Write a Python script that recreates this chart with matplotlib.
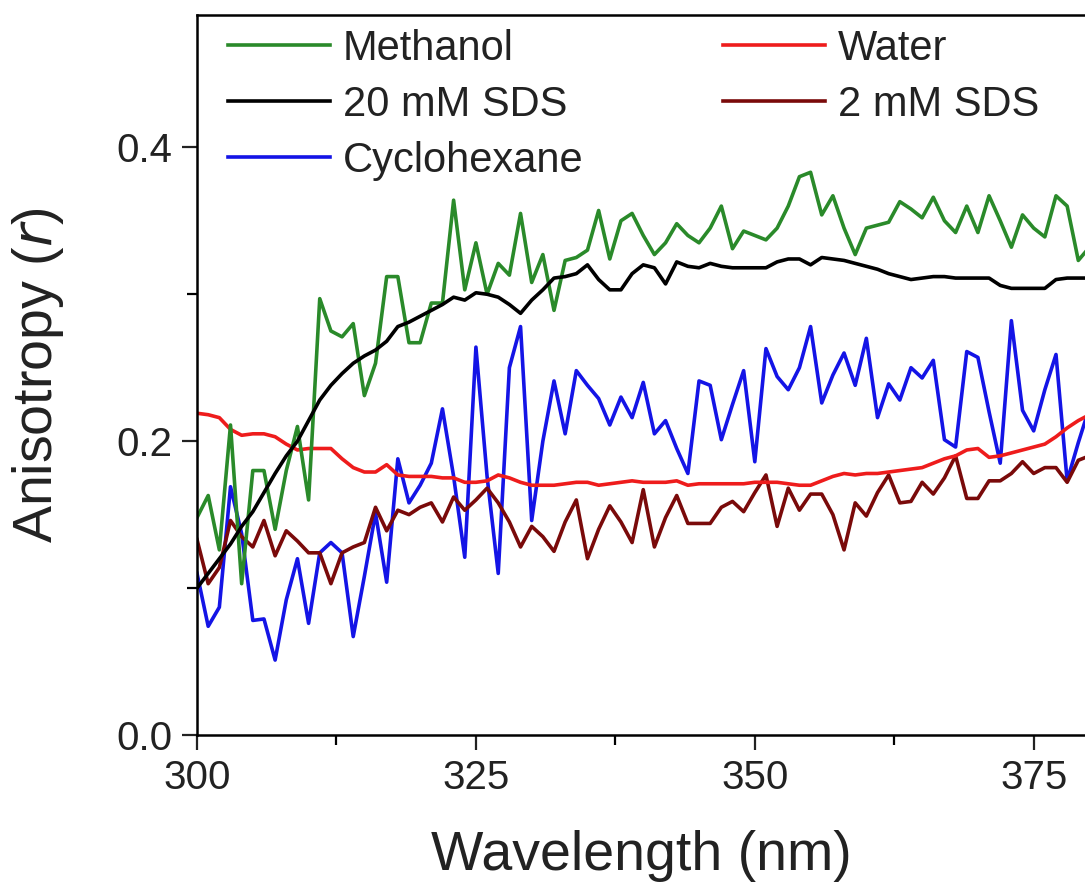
import numpy as np
import matplotlib
matplotlib.use("Agg")
from matplotlib import pyplot as plt
from matplotlib.ticker import MultipleLocator, FormatStrFormatter

plt.rcParams["font.family"] = ["Liberation Sans", "DejaVu Sans"]

# wavelength grid (nm)
wavelength = np.arange(300, 381)

methanol = [
    0.148, 0.163, 0.126, 0.211, 0.103, 0.180, 0.180, 0.140, 0.180, 0.210,
    0.160, 0.297, 0.275, 0.271, 0.280, 0.231, 0.253, 0.312, 0.312, 0.267,
    0.267, 0.294, 0.294, 0.364, 0.303, 0.335, 0.300, 0.321, 0.313, 0.355,
    0.308, 0.327, 0.289, 0.323, 0.325, 0.330, 0.357, 0.324, 0.350, 0.355,
    0.340, 0.327, 0.335, 0.348, 0.340, 0.335, 0.345, 0.360, 0.331, 0.343,
    0.340, 0.337, 0.345, 0.360, 0.380, 0.383, 0.354, 0.367, 0.345, 0.327,
    0.345, 0.347, 0.349, 0.363, 0.358, 0.352, 0.366, 0.350, 0.342, 0.360,
    0.342, 0.367, 0.350, 0.332, 0.354, 0.345, 0.339, 0.367, 0.360, 0.323,
    0.332,
]

sds_20mm = [
    0.100, 0.110, 0.120, 0.130, 0.142, 0.152, 0.165, 0.178, 0.190, 0.200,
    0.214, 0.228, 0.238, 0.246, 0.253, 0.258, 0.262, 0.268, 0.278, 0.281,
    0.285, 0.289, 0.293, 0.298, 0.296, 0.301, 0.300, 0.298, 0.293, 0.287,
    0.296, 0.303, 0.311, 0.312, 0.314, 0.320, 0.310, 0.303, 0.303, 0.314,
    0.320, 0.318, 0.307, 0.322, 0.319, 0.318, 0.321, 0.319, 0.318, 0.318,
    0.318, 0.318, 0.322, 0.324, 0.324, 0.320, 0.325, 0.324, 0.323, 0.321,
    0.319, 0.317, 0.314, 0.312, 0.310, 0.311, 0.312, 0.312, 0.311, 0.311,
    0.311, 0.311, 0.306, 0.304, 0.304, 0.304, 0.304, 0.310, 0.311, 0.311,
    0.311,
]

cyclohexane = [
    0.110, 0.074, 0.087, 0.169, 0.137, 0.078, 0.079, 0.051, 0.092, 0.120,
    0.076, 0.124, 0.131, 0.124, 0.067, 0.108, 0.151, 0.104, 0.188, 0.158,
    0.170, 0.185, 0.222, 0.176, 0.121, 0.264, 0.176, 0.110, 0.250, 0.278,
    0.146, 0.200, 0.241, 0.205, 0.248, 0.238, 0.229, 0.211, 0.230, 0.216,
    0.240, 0.205, 0.214, 0.195, 0.178, 0.241, 0.238, 0.201, 0.225, 0.248,
    0.186, 0.263, 0.244, 0.235, 0.250, 0.278, 0.226, 0.245, 0.260, 0.238,
    0.270, 0.216, 0.239, 0.228, 0.250, 0.243, 0.255, 0.201, 0.196, 0.261,
    0.257, 0.220, 0.185, 0.282, 0.221, 0.207, 0.235, 0.259, 0.173, 0.199,
    0.223,
]

water = [
    0.219, 0.218, 0.216, 0.208, 0.204, 0.205, 0.205, 0.203, 0.198, 0.194,
    0.195, 0.195, 0.195, 0.188, 0.182, 0.179, 0.179, 0.184, 0.177, 0.176,
    0.176, 0.176, 0.175, 0.175, 0.172, 0.172, 0.173, 0.177, 0.175, 0.172,
    0.170, 0.170, 0.170, 0.171, 0.172, 0.172, 0.170, 0.171, 0.172, 0.173,
    0.172, 0.172, 0.172, 0.173, 0.170, 0.171, 0.171, 0.171, 0.171, 0.171,
    0.172, 0.172, 0.172, 0.171, 0.170, 0.170, 0.173, 0.176, 0.178, 0.177,
    0.178, 0.178, 0.179, 0.180, 0.181, 0.182, 0.185, 0.188, 0.190, 0.194,
    0.195, 0.189, 0.190, 0.192, 0.194, 0.196, 0.198, 0.203, 0.209, 0.214,
    0.218,
]

sds_2mm = [
    0.133, 0.103, 0.114, 0.146, 0.135, 0.128, 0.146, 0.122, 0.139, 0.132,
    0.124, 0.124, 0.103, 0.124, 0.128, 0.131, 0.155, 0.139, 0.153, 0.150,
    0.155, 0.158, 0.145, 0.162, 0.153, 0.160, 0.168, 0.158, 0.145, 0.128,
    0.142, 0.135, 0.125, 0.145, 0.160, 0.120, 0.140, 0.156, 0.145, 0.131,
    0.167, 0.128, 0.148, 0.163, 0.144, 0.144, 0.144, 0.155, 0.159, 0.152,
    0.165, 0.177, 0.142, 0.168, 0.153, 0.164, 0.164, 0.150, 0.126, 0.158,
    0.149, 0.165, 0.177, 0.158, 0.159, 0.172, 0.164, 0.175, 0.190, 0.161,
    0.161, 0.173, 0.173, 0.178, 0.186, 0.178, 0.182, 0.182, 0.172, 0.187,
    0.190,
]

# legend order: column-wise (Methanol, 20 mM SDS, Cyclohexane | Water, 2 mM SDS)
series = [
    ("Methanol", methanol, "#2a8a2a"),
    ("20 mM SDS", sds_20mm, "#000000"),
    ("Cyclohexane", cyclohexane, "#1414e6"),
    ("Water", water, "#ee1c1c"),
    ("2 mM SDS", sds_2mm, "#7a0a0a"),
]

fig = plt.figure(figsize=(10.85, 8.86), dpi=100)
ax = fig.add_axes([0.1816, 0.1704, 0.8184, 0.8126])

# draw order so the black and red lines sit over the noisy ones
for name, values, color in [series[2], series[4], series[3], series[0], series[1]]:
    ax.plot(wavelength, values, color=color, lw=2.6, label=name)

ax.set_xlim(300, 379.6)
ax.set_ylim(0, 0.49)
ax.xaxis.set_major_locator(MultipleLocator(25))
ax.xaxis.set_minor_locator(MultipleLocator(12.5))
ax.yaxis.set_major_locator(MultipleLocator(0.2))
ax.yaxis.set_minor_locator(MultipleLocator(0.1))
ax.yaxis.set_major_formatter(FormatStrFormatter("%.1f"))

ax.tick_params(which="major", direction="out", length=11, width=1.6,
               labelsize=29, colors="#222222")
ax.tick_params(which="minor", direction="out", length=7, width=1.6)
ax.tick_params(axis="x", pad=6)
ax.tick_params(axis="y", pad=7)
for side in ["left", "bottom", "top"]:
    ax.spines[side].set_linewidth(1.8)
ax.spines["right"].set_visible(False)

ax.set_xlabel("Wavelength (nm)", fontsize=40, color="#222222", labelpad=24)
ax.set_ylabel("Anisotropy ($\\it{r}$)", fontsize=40, color="#222222", labelpad=36)

handles, labels = ax.get_legend_handles_labels()
lookup = dict(zip(labels, handles))
order = [name for name, _, _ in series]
ax.legend([lookup[n] for n in order], order, ncol=2, frameon=False,
          fontsize=30, loc="upper left",
          bbox_to_anchor=(228 / 1085, 1 - 29 / 886), bbox_transform=fig.transFigure,
          borderpad=0, borderaxespad=0,
          handlelength=2.45, handletextpad=0.31, columnspacing=3.35,
          labelspacing=0.38, labelcolor="#222222")

fig.savefig("out.png", dpi=100)
